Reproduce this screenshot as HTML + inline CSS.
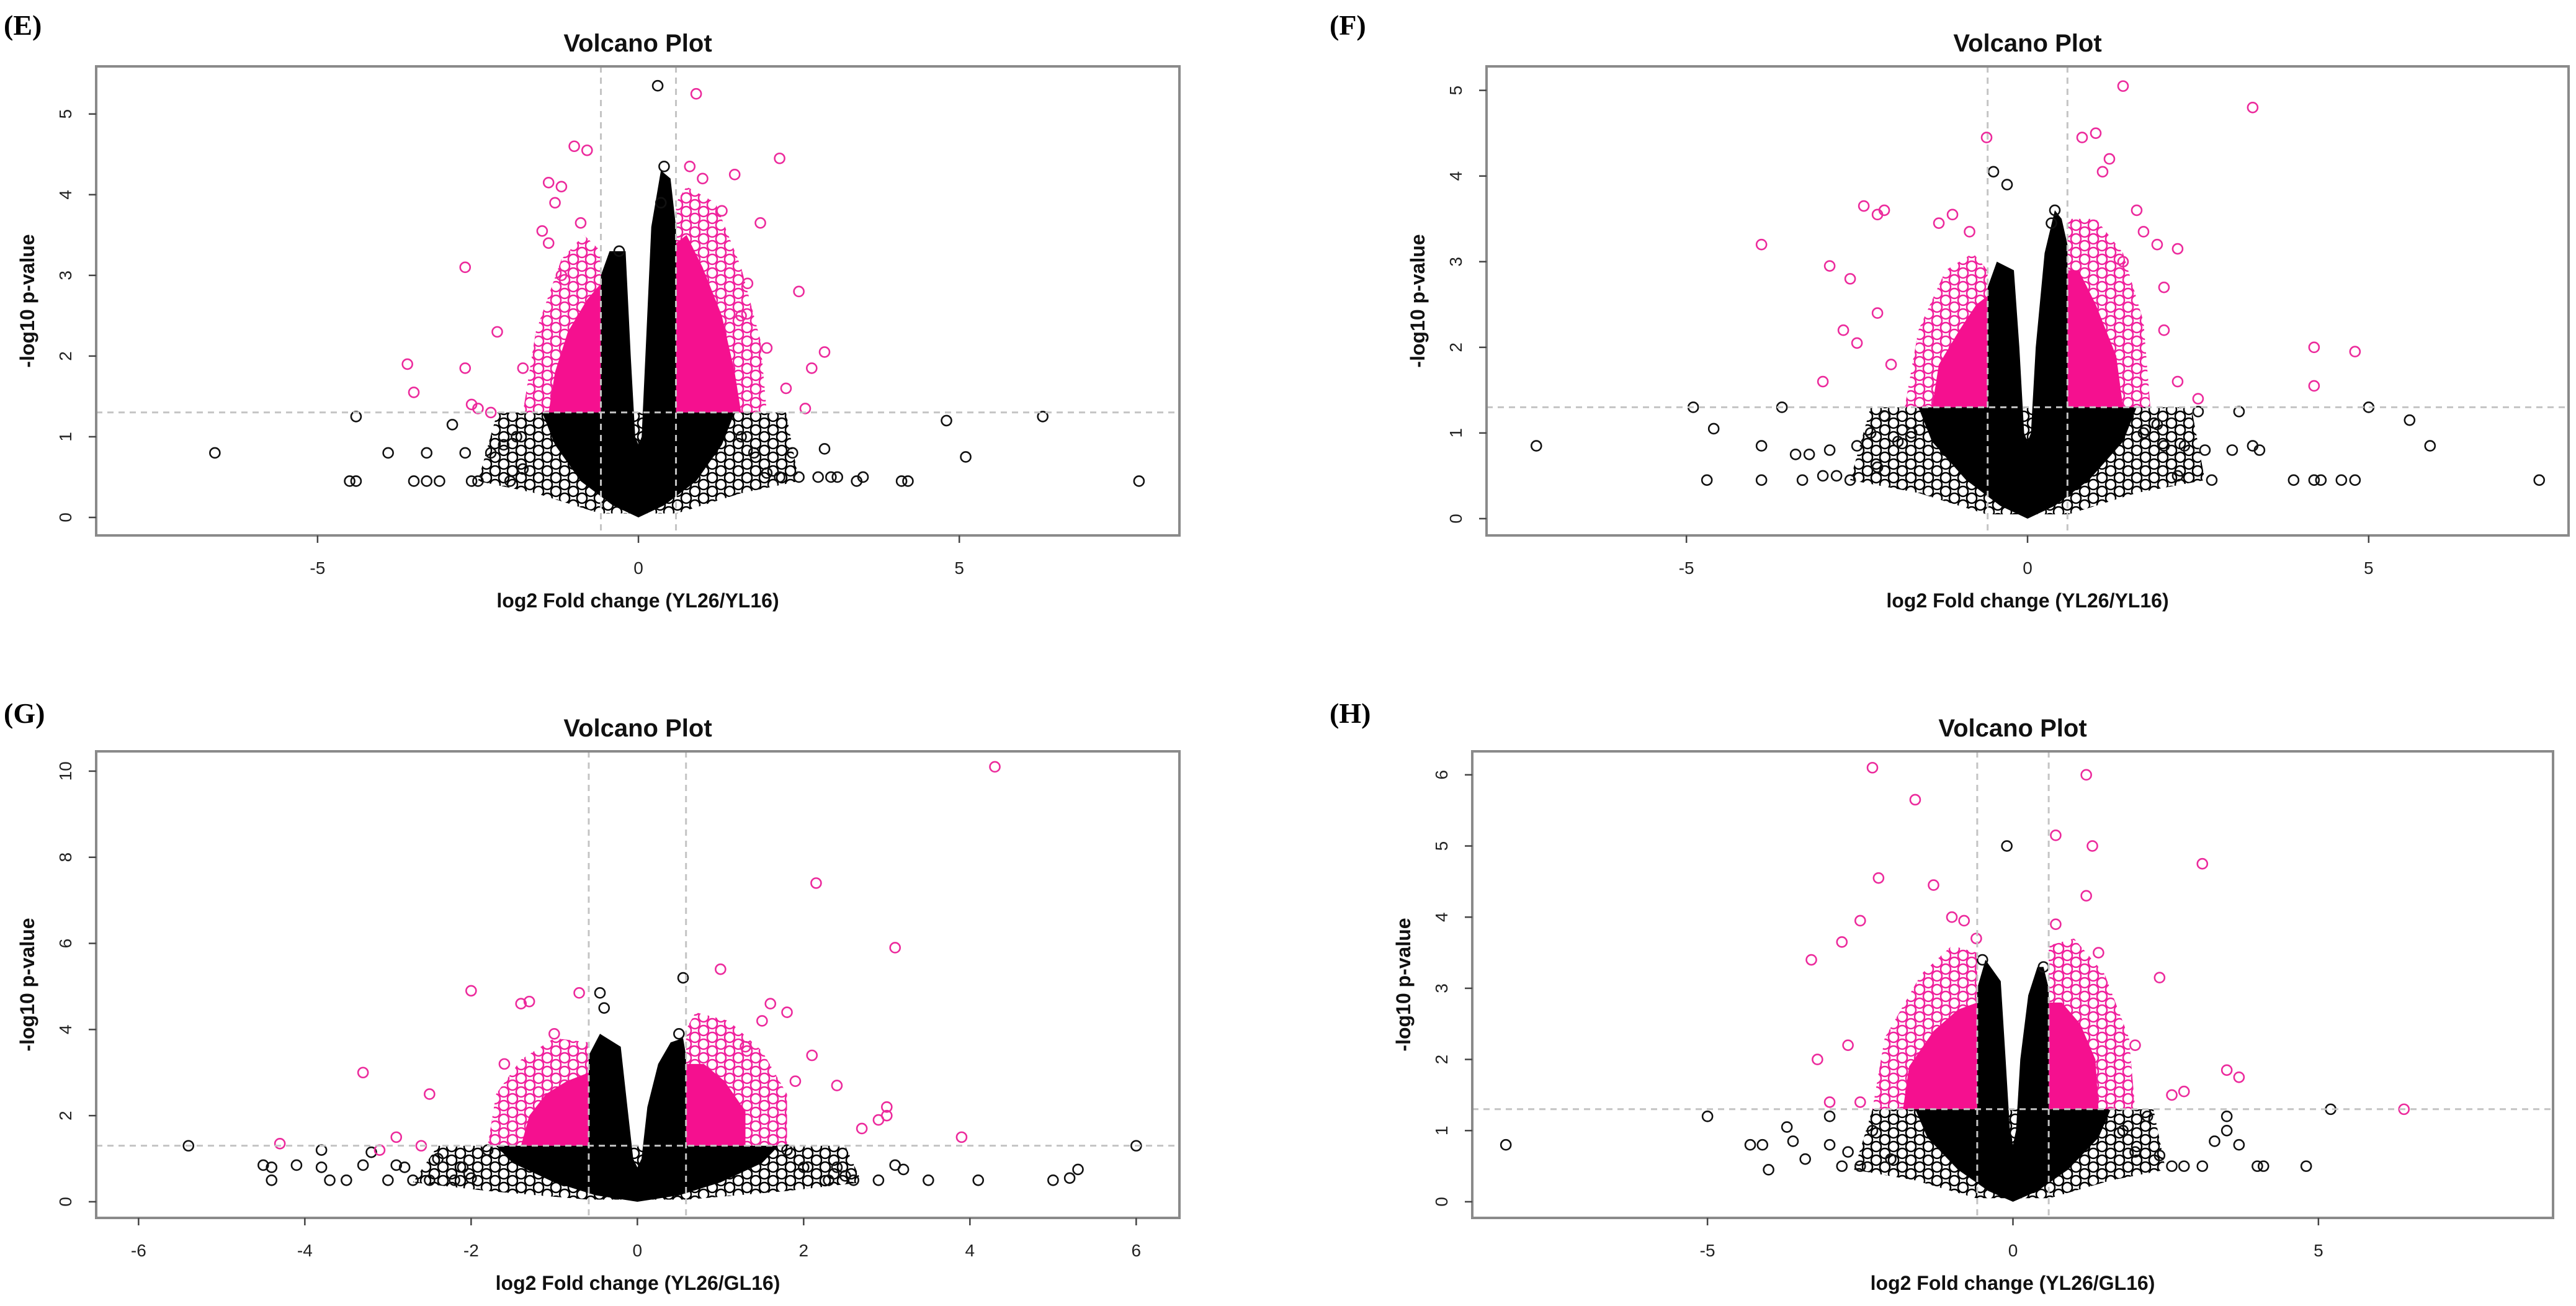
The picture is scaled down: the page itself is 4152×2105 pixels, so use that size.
<!DOCTYPE html>
<html><head><meta charset="utf-8">
<style>
html,body{margin:0;padding:0;background:#fff;}
svg{display:block;}
.t{font-family:"Liberation Sans",Arial,sans-serif;}
</style></head>
<body>
<svg id="fig" width="4152" height="2105" viewBox="0 0 4152 2105" xmlns="http://www.w3.org/2000/svg">
<defs>
<pattern id="patK" width="28" height="22" patternUnits="userSpaceOnUse">
<g fill="none" stroke="#000" stroke-width="2.5">
<circle cx="0" cy="0" r="8"/><circle cx="28" cy="0" r="8"/><circle cx="14" cy="11" r="8"/><circle cx="0" cy="22" r="8"/><circle cx="28" cy="22" r="8"/>
</g></pattern>
<pattern id="patP" width="28" height="22" patternUnits="userSpaceOnUse">
<g fill="none" stroke="#f0209c" stroke-width="2.5">
<circle cx="0" cy="0" r="8"/><circle cx="28" cy="0" r="8"/><circle cx="14" cy="11" r="8"/><circle cx="0" cy="22" r="8"/><circle cx="28" cy="22" r="8"/>
</g></pattern>
</defs>
<text x="6" y="56" font-family="Liberation Serif,serif" font-weight="bold" font-size="46">(E)</text>
<text x="2143" y="56" font-family="Liberation Serif,serif" font-weight="bold" font-size="46">(F)</text>
<text x="6" y="1165" font-family="Liberation Serif,serif" font-weight="bold" font-size="46">(G)</text>
<text x="2143" y="1165" font-family="Liberation Serif,serif" font-weight="bold" font-size="46">(H)</text>
</svg>
<script>
// ---------- Panel E data ----------
const eXTicks = [-5, 0, 5];
const eYTicks = [0, 1, 2, 3, 4, 5];
const eBlackPts = [[-6.6,0.8],[-4.5,0.45],[-4.4,0.45],[-4.4,1.25],[-3.9,0.8],[-3.5,0.45],[-3.3,0.45],[-3.1,0.45],[-3.3,0.8],[-2.9,1.15],[-2.7,0.8],[-2.6,0.45],[-2.5,0.45],[-2.3,0.8],[-2.1,0.9],[-2.0,0.45],[-1.8,0.6],[-1.9,1.0],[4.8,1.2],[6.3,1.25],[7.8,0.45],[5.1,0.75],[4.1,0.45],[4.2,0.45],[3.4,0.45],[3.5,0.5],[3.0,0.5],[3.1,0.5],[2.9,0.85],[2.8,0.5],[2.5,0.5],[2.4,0.8],[2.2,0.5],[2.0,0.55],[1.8,0.8],[1.6,1.0],[0.3,5.35],[-0.3,3.3],[0.4,4.35],[0.35,3.9]];
const ePinkPts = [[-1.0,4.6],[-0.8,4.55],[-1.2,4.1],[-1.4,4.15],[-1.3,3.9],[-1.5,3.55],[-1.4,3.4],[-0.9,3.65],[-2.7,3.1],[-1.2,3.0],[-3.6,1.9],[-3.5,1.55],[-2.7,1.85],[-2.2,2.3],[-2.6,1.4],[-2.5,1.35],[-2.3,1.3],[-1.8,1.85],[0.9,5.25],[1.5,4.25],[2.2,4.45],[1.9,3.65],[2.5,2.8],[2.9,2.05],[2.7,1.85],[2.6,1.35],[2.3,1.6],[1.7,2.9],[1.3,3.8],[1.0,4.2],[0.8,4.35],[1.6,2.5],[2.0,2.1]];
const eBlackCore = [[-1.5,1.3],[-0.585,1.3],[-0.585,3.0],[-0.45,3.3],[-0.2,3.3],[-0.12,2.0],[-0.05,1.0],[0,0.9],[0.05,1.0],[0.12,2.2],[0.2,3.6],[0.35,4.3],[0.5,4.2],[0.585,3.6],[0.585,1.3],[1.5,1.3],[1.3,0.9],[0.9,0.45],[0.4,0.15],[0,0],[-0.4,0.15],[-0.9,0.45],[-1.3,0.9]];
const eBlackHalo = [[-2.2,1.3],[2.3,1.3],[2.5,0.45],[1.6,0.3],[0.6,0.05],[-0.6,0.05],[-1.6,0.3],[-2.5,0.45]];
const ePinkCore = [[[-0.585,1.3],[-1.4,1.3],[-1.3,1.8],[-1.1,2.3],[-0.8,2.7],[-0.585,2.9]],[[0.585,1.3],[1.6,1.3],[1.5,1.8],[1.3,2.5],[1.0,3.1],[0.75,3.5],[0.585,3.4]]];
const ePinkHalo = [[[-0.585,1.3],[-1.8,1.3],[-1.6,2.3],[-1.2,3.2],[-0.85,3.5],[-0.585,3.3]],[[0.585,1.3],[2.0,1.3],[1.9,2.2],[1.6,3.1],[1.2,3.9],[0.75,4.1],[0.585,3.9]]];

// ---------- Panel F data ----------
const fXTicks = [-5, 0, 5];
const fYTicks = [0, 1, 2, 3, 4, 5];
const fBlackPts = [[-7.2,0.85],[-4.9,1.3],[-4.6,1.05],[-4.7,0.45],[-3.9,0.85],[-3.9,0.45],[-3.6,1.3],[-3.4,0.75],[-3.2,0.75],[-3.3,0.45],[-3.0,0.5],[-2.9,0.8],[-2.8,0.5],[-2.6,0.45],[-2.5,0.85],[-2.3,1.0],[-2.2,0.6],[-2.1,1.2],[-1.9,0.9],[-1.7,1.0],[7.5,0.45],[5.9,0.85],[5.6,1.15],[5.0,1.3],[4.8,0.45],[4.6,0.45],[4.2,0.45],[4.3,0.45],[3.9,0.45],[3.4,0.8],[3.3,0.85],[3.1,1.25],[3.0,0.8],[2.7,0.45],[2.5,1.25],[2.6,0.8],[2.3,0.85],[2.2,0.5],[2.0,0.85],[1.9,1.1],[1.7,1.0],[-0.5,4.05],[-0.3,3.9],[0.4,3.6],[0.35,3.45]];
const fPinkPts = [[-3.9,3.2],[-2.4,3.65],[-2.2,3.55],[-2.1,3.6],[-2.9,2.95],[-2.6,2.8],[-2.2,2.4],[-2.5,2.05],[-2.7,2.2],[-3.0,1.6],[-2.0,1.8],[-1.3,3.45],[-1.1,3.55],[-0.85,3.35],[-0.6,4.45],[0.8,4.45],[1.0,4.5],[1.2,4.2],[1.1,4.05],[1.4,5.05],[3.3,4.8],[1.7,3.35],[1.9,3.2],[1.6,3.6],[2.2,3.15],[1.4,3.0],[2.0,2.7],[4.2,2.0],[4.2,1.55],[4.8,1.95],[2.5,1.4],[2.2,1.6],[2.0,2.2]];
const fBlackCore = [[-1.6,1.3],[-0.585,1.3],[-0.585,2.7],[-0.45,3.0],[-0.2,2.9],[-0.12,2.0],[-0.05,1.0],[0,0.9],[0.05,1.0],[0.12,2.0],[0.25,3.1],[0.4,3.6],[0.5,3.5],[0.585,3.2],[0.585,1.3],[1.6,1.3],[1.4,0.9],[0.9,0.45],[0.4,0.15],[0,0],[-0.4,0.15],[-0.9,0.45],[-1.4,0.9]];
const fBlackHalo = [[-2.3,1.3],[2.4,1.3],[2.6,0.45],[1.6,0.3],[0.6,0.05],[-0.6,0.05],[-1.6,0.3],[-2.6,0.45]];
const fPinkCore = [[[-0.585,1.3],[-1.4,1.3],[-1.3,1.8],[-1.0,2.2],[-0.75,2.5],[-0.585,2.6]],[[0.585,1.3],[1.4,1.3],[1.3,1.9],[1.0,2.5],[0.75,2.9],[0.585,2.9]]];
const fPinkHalo = [[[-0.585,1.3],[-1.8,1.3],[-1.6,2.2],[-1.2,2.9],[-0.8,3.1],[-0.585,2.9]],[[0.585,1.3],[1.8,1.3],[1.7,2.3],[1.4,3.1],[1.0,3.5],[0.585,3.5]]];

// ---------- Panel G data ----------
const gXTicks = [-6, -4, -2, 0, 2, 4, 6];
const gYTicks = [0, 2, 4, 6, 8, 10];
const gBlackPts = [[-5.4,1.3],[-4.5,0.85],[-4.4,0.8],[-4.4,0.5],[-4.1,0.85],[-3.8,1.2],[-3.8,0.8],[-3.7,0.5],[-3.5,0.5],[-3.3,0.85],[-3.2,1.15],[-3.0,0.5],[-2.9,0.85],[-2.8,0.8],[-2.7,0.5],[-2.5,0.5],[-2.4,1.0],[-2.2,0.5],[-2.1,0.8],[-2.0,0.55],[-1.8,1.2],[6.0,1.3],[5.2,0.55],[5.3,0.75],[5.0,0.5],[4.1,0.5],[3.5,0.5],[3.2,0.75],[3.1,0.85],[2.9,0.5],[2.6,0.5],[2.5,0.6],[2.4,0.8],[2.3,0.5],[2.0,0.8],[1.8,1.2],[-0.4,4.5],[-0.45,4.85],[0.55,5.2],[0.5,3.9]];
const gPinkPts = [[4.3,10.1],[2.15,7.4],[3.1,5.9],[-2.0,4.9],[-1.3,4.65],[-1.4,4.6],[-0.7,4.85],[-3.3,3.0],[-4.3,1.35],[-2.5,2.5],[-2.9,1.5],[-2.6,1.3],[-3.1,1.2],[1.0,5.4],[1.6,4.6],[1.8,4.4],[1.5,4.2],[2.1,3.4],[2.4,2.7],[2.9,1.9],[3.0,2.2],[3.0,2.0],[3.9,1.5],[2.7,1.7],[1.9,2.8],[1.3,3.6],[-1.0,3.9],[-1.6,3.2]];
const gBlackCore = [[-1.7,1.3],[-0.585,1.3],[-0.585,3.4],[-0.45,3.9],[-0.2,3.6],[-0.12,2.2],[-0.05,1.0],[0,0.8],[0.05,1.0],[0.12,2.2],[0.25,3.2],[0.4,3.7],[0.55,3.8],[0.585,3.4],[0.585,1.3],[1.7,1.3],[1.5,0.9],[1.0,0.45],[0.5,0.15],[0,0],[-0.5,0.15],[-1.0,0.45],[-1.5,0.9]];
const gBlackHalo = [[-2.4,1.3],[2.5,1.3],[2.7,0.45],[1.8,0.25],[0.6,0.05],[-0.6,0.05],[-1.8,0.25],[-2.7,0.45]];
const gPinkCore = [[[-0.585,1.3],[-1.4,1.3],[-1.3,2.0],[-1.1,2.5],[-0.85,2.8],[-0.585,3.0]],[[0.585,1.3],[1.3,1.3],[1.3,2.1],[1.05,2.8],[0.8,3.2],[0.585,3.2]]];
const gPinkHalo = [[[-0.585,1.3],[-1.8,1.3],[-1.7,2.5],[-1.4,3.3],[-1.0,3.8],[-0.585,3.7]],[[0.585,1.3],[1.8,1.3],[1.8,2.5],[1.5,3.5],[1.1,4.2],[0.7,4.4],[0.585,4.0]]];

// ---------- Panel H data ----------
const hXTicks = [-5, 0, 5];
const hYTicks = [0, 1, 2, 3, 4, 5, 6];
const hBlackPts = [[-8.3,0.8],[-5.0,1.2],[-4.3,0.8],[-4.1,0.8],[-4.0,0.45],[-3.7,1.05],[-3.6,0.85],[-3.4,0.6],[-3.0,1.2],[-3.0,0.8],[-2.8,0.5],[-2.7,0.7],[-2.5,0.5],[-2.3,1.0],[-2.0,0.6],[5.2,1.3],[4.8,0.5],[4.1,0.5],[4.0,0.5],[3.7,0.8],[3.5,1.0],[3.5,1.2],[3.3,0.85],[3.1,0.5],[2.8,0.5],[2.6,0.5],[2.4,0.65],[2.2,1.2],[2.0,0.7],[1.8,1.0],[-0.1,5.0],[-0.5,3.4],[0.5,3.3]];
const hPinkPts = [[-2.3,6.1],[-1.6,5.65],[-3.3,3.4],[-2.8,3.65],[-2.5,3.95],[-2.2,4.55],[-1.3,4.45],[-1.0,4.0],[-0.8,3.95],[-0.6,3.7],[1.2,6.0],[0.7,5.15],[1.3,5.0],[1.2,4.3],[3.1,4.75],[0.7,3.9],[2.4,3.15],[1.4,3.5],[3.5,1.85],[3.7,1.75],[6.4,1.3],[2.6,1.5],[2.8,1.55],[2.0,2.2],[-3.2,2.0],[-2.7,2.2],[-2.5,1.4],[-3.0,1.4]];
const hBlackCore = [[-1.6,1.3],[-0.585,1.3],[-0.585,3.0],[-0.45,3.4],[-0.2,3.1],[-0.12,2.0],[-0.05,1.0],[0,0.8],[0.05,1.0],[0.12,2.0],[0.25,2.9],[0.4,3.3],[0.5,3.3],[0.585,3.0],[0.585,1.3],[1.6,1.3],[1.4,0.9],[0.9,0.45],[0.4,0.15],[0,0],[-0.4,0.15],[-0.9,0.45],[-1.4,0.9]];
const hBlackHalo = [[-2.3,1.3],[2.3,1.3],[2.5,0.45],[1.6,0.3],[0.6,0.05],[-0.6,0.05],[-1.6,0.3],[-2.6,0.45]];
const hPinkCore = [[[-0.585,1.3],[-1.8,1.3],[-1.7,1.9],[-1.3,2.4],[-0.9,2.7],[-0.585,2.8]],[[0.585,1.3],[1.4,1.3],[1.35,2.0],[1.1,2.5],[0.8,2.8],[0.585,2.8]]];
const hPinkHalo = [[[-0.585,1.3],[-2.3,1.3],[-2.1,2.3],[-1.5,3.2],[-1.0,3.6],[-0.585,3.5]],[[0.585,1.3],[2.0,1.3],[1.9,2.3],[1.5,3.2],[1.0,3.7],[0.585,3.6]]];

const NS = "http://www.w3.org/2000/svg";
const svg = document.getElementById("fig");
function mk(tag, attrs, parent){ const e=document.createElementNS(NS,tag); for(const k in attrs) e.setAttribute(k,attrs[k]); (parent||svg).appendChild(e); return e; }

function panel(id, box, xr, yr, xTicks, yTicks, xlabel, blackPts, pinkPts, blackCore, blackHalo, pinkCore, pinkHalo){
  const sx = v => box.L + (v - xr[0]) / (xr[1]-xr[0]) * (box.R - box.L);
  const sy = v => box.B - (v - yr[0]) / (yr[1]-yr[0]) * (box.B - box.T);
  const g = mk("g", {});
  
  
  const clipId = "clip" + id;
  const cp = mk("clipPath", {id: clipId}, g);
  mk("rect", {x: box.L, y: box.T, width: box.R-box.L, height: box.B-box.T}, cp);
  const plot = mk("g", {"clip-path": "url(#"+clipId+")"}, g);
  const poly = (pts, fill, name) => {
    const p = mk("polygon", {points: pts.map(q => sx(q[0])+","+sy(q[1])).join(" "), fill: fill}, plot);
    
    
  };
  poly(blackHalo, "url(#patK)", "nonsignificant-density-halo");
  pinkHalo.forEach(pp => poly(pp, "url(#patP)", "significant-density-halo"));
  pinkCore.forEach(pp => poly(pp, "#f5108f", "significant-density-core"));
  poly(blackCore, "#000", "nonsignificant-density-core");
  blackPts.forEach(p => {
    const c = mk("circle", {cx: sx(p[0]), cy: sy(p[1]), r: 8, fill: "none", stroke: "#111", "stroke-width": 2.6}, plot);
    
    
  });
  pinkPts.forEach(p => {
    const c = mk("circle", {cx: sx(p[0]), cy: sy(p[1]), r: 8, fill: "none", stroke: "#ec2a9c", "stroke-width": 2.6}, plot);
    
    
  });
  const th = mk("line", {x1: box.L, x2: box.R, y1: sy(1.301), y2: sy(1.301), stroke: "#c4c4c4", "stroke-width": 3, "stroke-dasharray": "10 8"}, plot);
  
  
  [-0.585, 0.585].forEach(v => {
    const l = mk("line", {x1: sx(v), x2: sx(v), y1: box.T, y2: box.B, stroke: "#c4c4c4", "stroke-width": 3, "stroke-dasharray": "10 8"}, plot);
    
    
  });
  const fr = mk("rect", {x: box.L, y: box.T, width: box.R-box.L, height: box.B-box.T, fill: "none", stroke: "#8a8a8a", "stroke-width": 4}, g);
  
  
  xTicks.forEach(v => {
    const x = sx(v);
    mk("line", {x1: x, x2: x, y1: box.B, y2: box.B+12, stroke: "#444", "stroke-width": 2.5}, g);
    const t = mk("text", {x: x, y: box.B+62, "text-anchor": "middle", "font-size": 28, fill: "#222", class: "t"}, g);
    t.textContent = String(v);
    
    
  });
  yTicks.forEach(v => {
    const y = sy(v);
    mk("line", {x1: box.L-12, x2: box.L, y1: y, y2: y, stroke: "#444", "stroke-width": 2.5}, g);
    const tx = box.L - 40;
    const t = mk("text", {x: tx, y: y, "text-anchor": "middle", "font-size": 28, fill: "#222", class: "t", transform: "rotate(-90 "+tx+" "+y+")"}, g);
    t.textContent = String(v);
    
    
  });
  const cx = (box.L + box.R) / 2;
  const title = mk("text", {x: cx, y: box.T - 24, "text-anchor": "middle", "font-size": 40, "font-weight": "bold", fill: "#111", class: "t"}, g);
  title.textContent = "Volcano Plot";
  
  
  const xl = mk("text", {x: cx, y: box.B + 116, "text-anchor": "middle", "font-size": 32, "font-weight": "bold", fill: "#111", class: "t"}, g);
  xl.textContent = xlabel;
  
  
  const yx = box.L - 100, yy = (box.T + box.B) / 2;
  const yl = mk("text", {x: yx, y: yy, "text-anchor": "middle", "font-size": 32, "font-weight": "bold", fill: "#111", class: "t", transform: "rotate(-90 "+yx+" "+yy+")"}, g);
  yl.textContent = "-log10 p-value";
  
  
}

panel("e", {L:155, R:1901, T:107, B:863}, [-8.45, 8.43], [-0.223, 5.59], eXTicks, eYTicks, "log2 Fold change (YL26/YL16)", eBlackPts, ePinkPts, eBlackCore, eBlackHalo, ePinkCore, ePinkHalo);
panel("f", {L:2396, R:4140, T:107, B:863}, [-7.93, 7.93], [-0.196, 5.28], fXTicks, fYTicks, "log2 Fold change (YL26/YL16)", fBlackPts, fPinkPts, fBlackCore, fBlackHalo, fPinkCore, fPinkHalo);
panel("g", {L:155, R:1901, T:1211, B:1963}, [-6.51, 6.52], [-0.375, 10.46], gXTicks, gYTicks, "log2 Fold change (YL26/GL16)", gBlackPts, gPinkPts, gBlackCore, gBlackHalo, gPinkCore, gPinkHalo);
panel("h", {L:2373, R:4115, T:1211, B:1963}, [-8.85, 8.84], [-0.227, 6.33], hXTicks, hYTicks, "log2 Fold change (YL26/GL16)", hBlackPts, hPinkPts, hBlackCore, hBlackHalo, hPinkCore, hPinkHalo);
</script>
</body></html>
